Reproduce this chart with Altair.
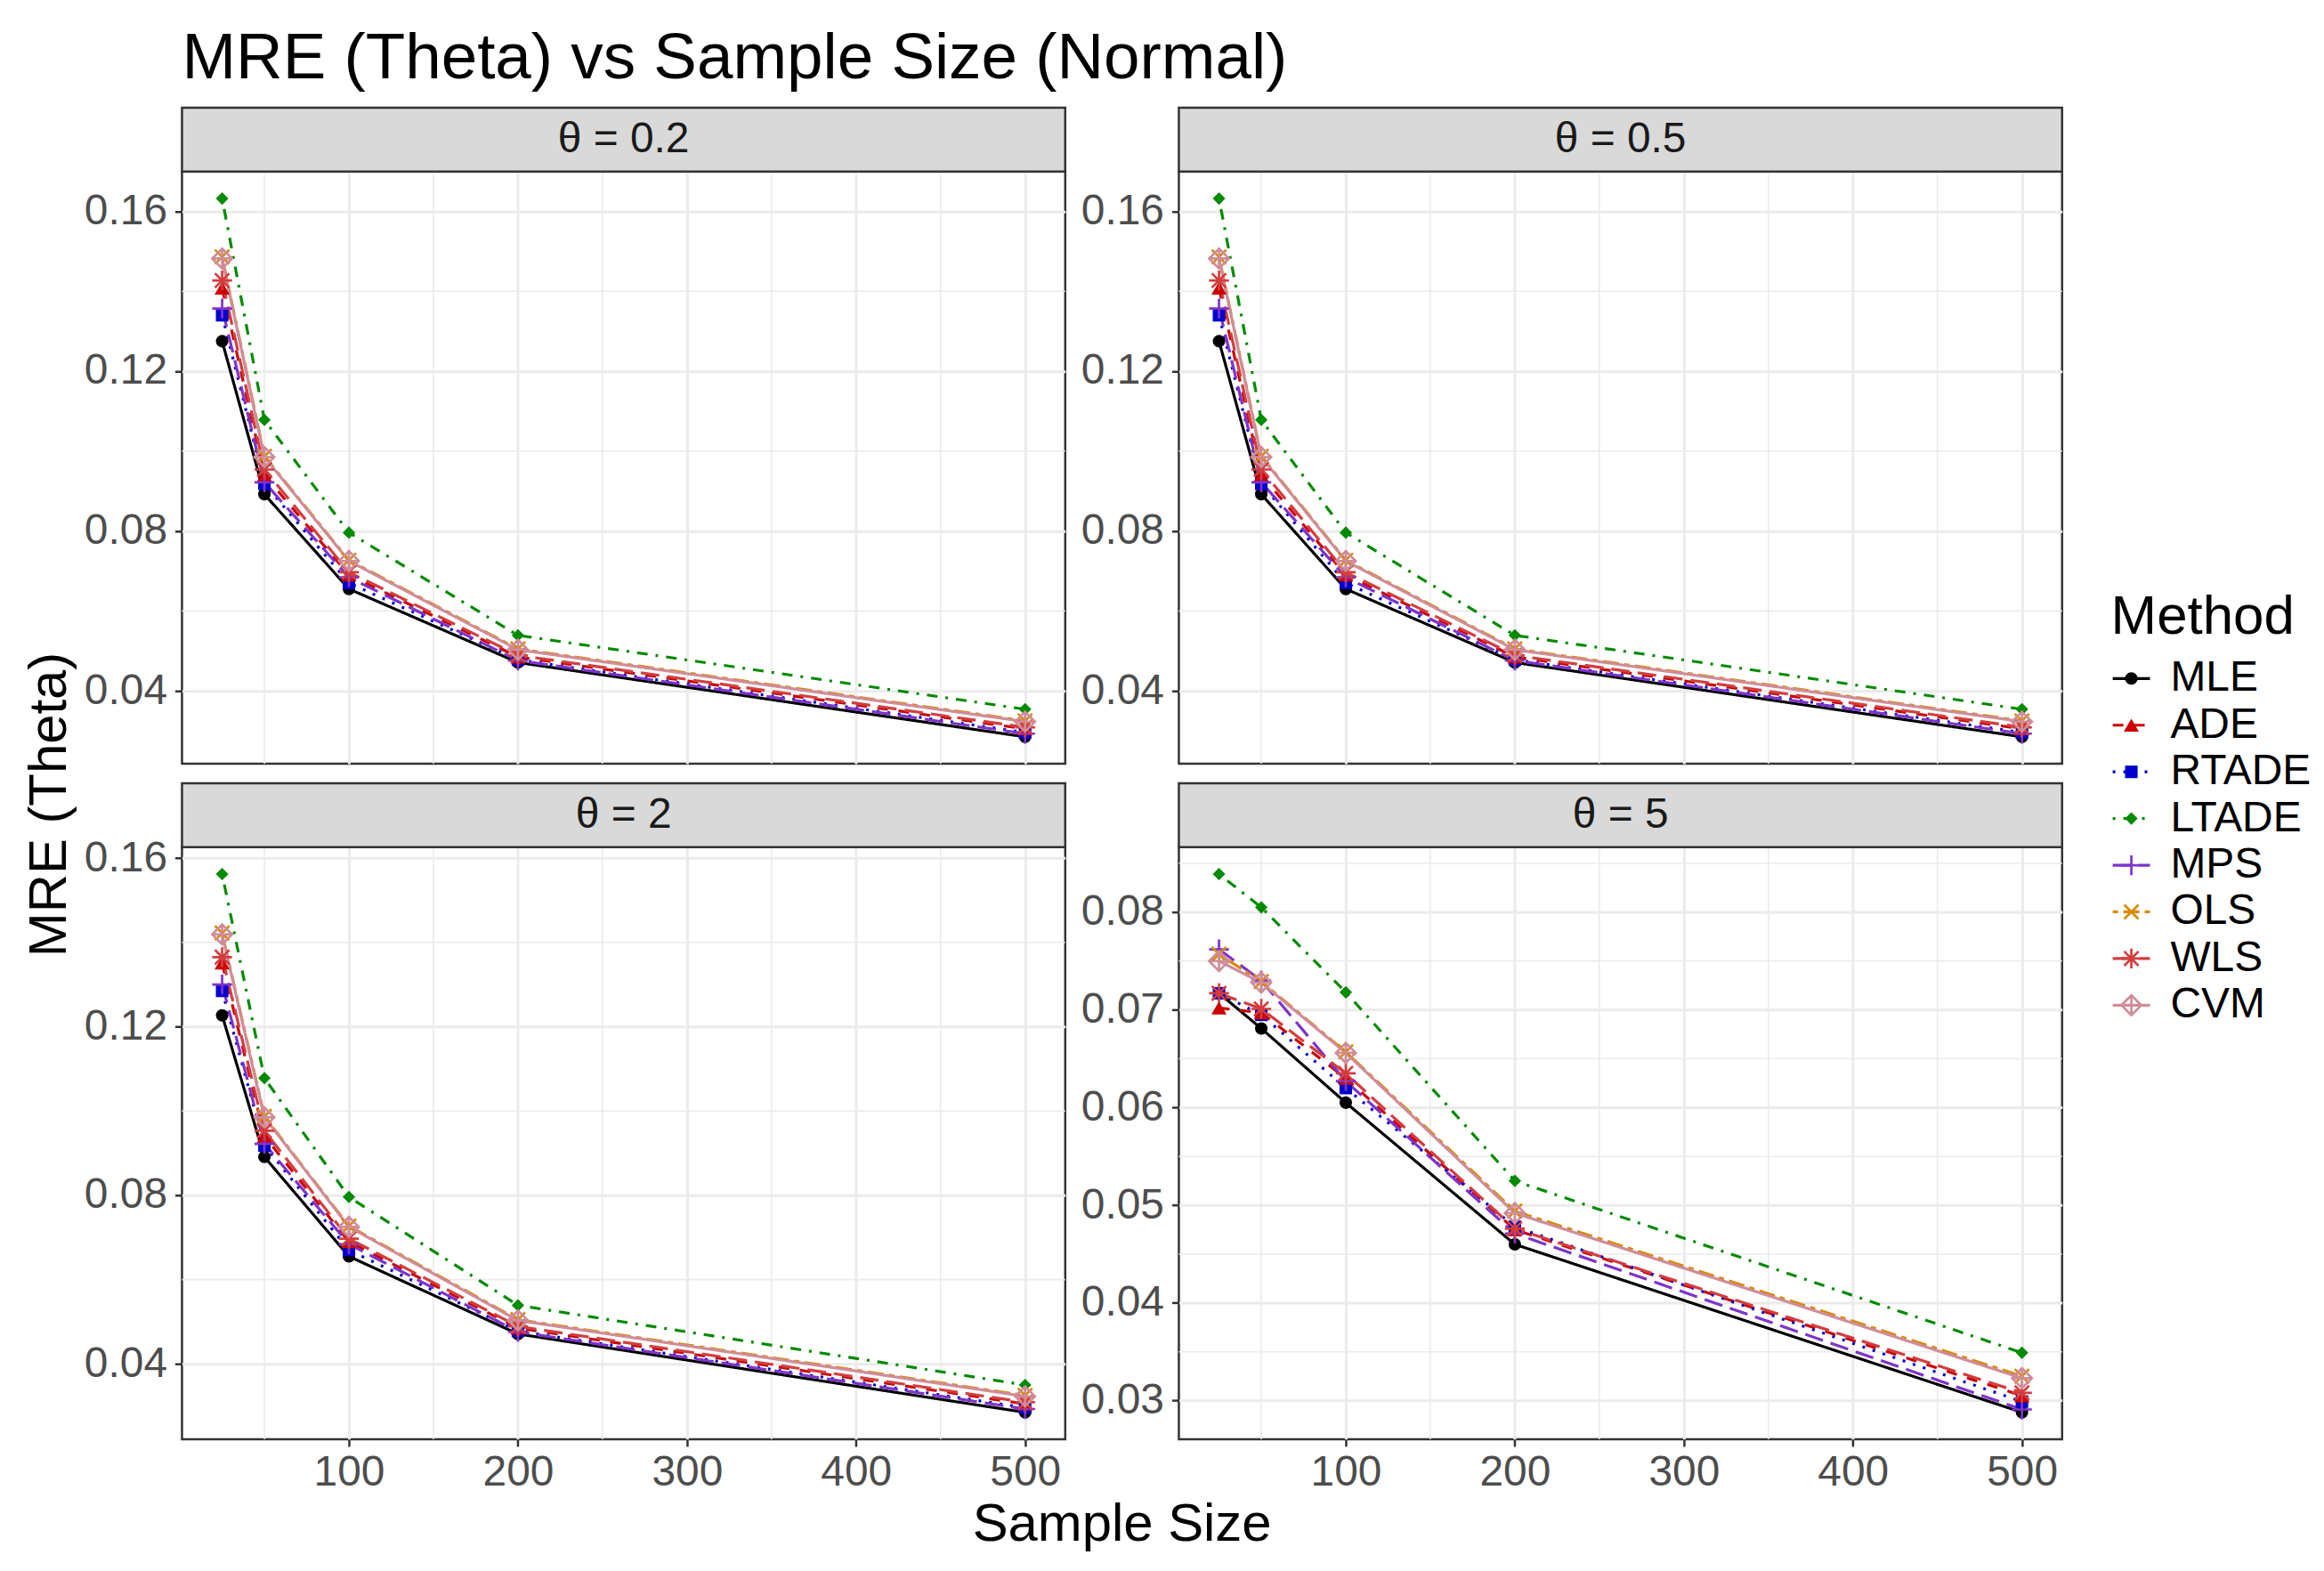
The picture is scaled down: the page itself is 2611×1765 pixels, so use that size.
import altair as alt
import pandas as pd

# ---------------- data ----------------
methods = ["MLE", "ADE", "RTADE", "LTADE", "MPS", "OLS", "WLS", "CVM"]
sample_sizes = [25, 50, 100, 200, 500]
theta_labels = ["θ = 0.2", "θ = 0.5", "θ = 2", "θ = 5"]

x_ticks = [100, 200, 300, 400, 500]
x_minor = [50, 150, 250, 350, 450]

y_ticks_a = [0.04, 0.08, 0.12, 0.16]
y_minor_a = [0.06, 0.10, 0.14]
y_ticks_b = [0.03, 0.04, 0.05, 0.06, 0.07, 0.08]
y_minor_b = [0.035, 0.045, 0.055, 0.065, 0.075, 0.085]

mre_theta_02 = {
    "MLE":   [0.1275, 0.0892, 0.0655, 0.0471, 0.0285],
    "ADE":   [0.1408, 0.0940, 0.0690, 0.0485, 0.0305],
    "RTADE": [0.1340, 0.0918, 0.0670, 0.0478, 0.0296],
    "LTADE": [0.1632, 0.1078, 0.0796, 0.0539, 0.0354],
    "MPS":   [0.1357, 0.0922, 0.0684, 0.0476, 0.0293],
    "OLS":   [0.1486, 0.0987, 0.0727, 0.0505, 0.0325],
    "WLS":   [0.1427, 0.0954, 0.0697, 0.0489, 0.0309],
    "CVM":   [0.1482, 0.0985, 0.0725, 0.0503, 0.0323],
}
mre_theta_05 = {
    "MLE":   [0.1275, 0.0892, 0.0655, 0.0471, 0.0285],
    "ADE":   [0.1408, 0.0940, 0.0690, 0.0485, 0.0305],
    "RTADE": [0.1340, 0.0918, 0.0670, 0.0478, 0.0296],
    "LTADE": [0.1632, 0.1078, 0.0796, 0.0539, 0.0354],
    "MPS":   [0.1357, 0.0922, 0.0684, 0.0476, 0.0293],
    "OLS":   [0.1486, 0.0987, 0.0727, 0.0505, 0.0325],
    "WLS":   [0.1427, 0.0954, 0.0697, 0.0489, 0.0309],
    "CVM":   [0.1482, 0.0985, 0.0725, 0.0503, 0.0323],
}
mre_theta_2 = {
    "MLE":   [0.1227, 0.0891, 0.0655, 0.0471, 0.0285],
    "ADE":   [0.1351, 0.0940, 0.0690, 0.0485, 0.0305],
    "RTADE": [0.1285, 0.0918, 0.0670, 0.0478, 0.0296],
    "LTADE": [0.1562, 0.1078, 0.0796, 0.0539, 0.0350],
    "MPS":   [0.1300, 0.0922, 0.0684, 0.0476, 0.0293],
    "OLS":   [0.1422, 0.0987, 0.0727, 0.0505, 0.0325],
    "WLS":   [0.1365, 0.0953, 0.0697, 0.0489, 0.0309],
    "CVM":   [0.1419, 0.0985, 0.0725, 0.0503, 0.0323],
}
mre_theta_5 = {
    "MLE":   [0.0717, 0.0681, 0.0605, 0.0460, 0.0288],
    "ADE":   [0.0702, 0.0697, 0.0630, 0.0475, 0.0305],
    "RTADE": [0.0717, 0.0695, 0.0620, 0.0478, 0.0299],
    "LTADE": [0.0839, 0.0805, 0.0718, 0.0525, 0.0349],
    "MPS":   [0.0762, 0.0730, 0.0627, 0.0471, 0.0291],
    "OLS":   [0.0757, 0.0729, 0.0657, 0.0494, 0.0325],
    "WLS":   [0.0717, 0.0701, 0.0635, 0.0476, 0.0308],
    "CVM":   [0.0750, 0.0728, 0.0656, 0.0492, 0.0323],
}
panel_values = [mre_theta_02, mre_theta_05, mre_theta_2, mre_theta_5]
panel_ticks = [(y_ticks_a, y_minor_a), (y_ticks_a, y_minor_a),
               (y_ticks_a, y_minor_a), (y_ticks_b, y_minor_b)]

title_text = "MRE (Theta) vs Sample Size (Normal)"
x_title = "Sample Size"
y_title = "MRE (Theta)"
legend_title = "Method"

# ---------------- styles ----------------
colors = ["#000000", "#CC0000", "#0000CC", "#008B00",
          "#7D33CC", "#D98A00", "#D43D3D", "#D08C99"]
dashes = [[1, 0], [12, 12], [3, 9], [3, 9, 12, 9],
          [21, 9], [6, 6, 18, 6], [21, 9], [1, 0]]
PLUS = "M-1,0L1,0M0,-1L0,1"
CROSS = "M-0.72,-0.72L0.72,0.72M-0.72,0.72L0.72,-0.72"
ASTER = "M-1,0L1,0M0,-1L0,1M-0.72,-0.72L0.72,0.72M-0.72,0.72L0.72,-0.72"
DPLUS = "M0,-1L1,0L0,1L-1,0ZM-1,0L1,0M0,-1L0,1"
shapes = ["circle", "triangle-up", "square", "diamond", PLUS, CROSS, ASTER, DPLUS]
round_methods = ["MLE", "RTADE", "LTADE"]
tri_methods = ["ADE"]
open_methods = methods[4:]

color_scale = alt.Scale(domain=methods, range=colors)
dash_scale = alt.Scale(domain=methods, range=dashes)
shape_scale = alt.Scale(domain=methods, range=shapes)

FONT = "Liberation Sans"
PW, PH, SH = 995, 667, 72
GAP_COL, GAP_ROW = 128, 22
GRID_C = "#EBEBEB"
LINE_W = 3.2
SIZE_F, SIZE_T, SIZE_O = 200, 290, 500


def make_df(vals):
    rows = []
    for m in methods:
        for n, v in zip(sample_sizes, vals[m]):
            rows.append({"Method": m, "n": n, "MRE": v})
    return pd.DataFrame(rows)


def text_layer(txt, x, y, size, **kw):
    return alt.Chart(pd.DataFrame({"t": [txt]})).mark_text(
        fontSize=size, font=FONT, **kw
    ).encode(text="t:N", x=alt.value(x), y=alt.value(y))


def point_layers(base, xenc=None):
    out = []
    for group, size, filled in [(round_methods, SIZE_F, True), (tri_methods, SIZE_T, True),
                                (open_methods, SIZE_O, False)]:
        mk = dict(filled=filled, opacity=1, size=size)
        if not filled:
            mk["strokeWidth"] = 2.7
        enc = dict(shape=alt.Shape("Method:N", scale=shape_scale, legend=None))
        if xenc is not None:
            enc["x"] = xenc
        out.append(base.transform_filter(
            alt.FieldOneOfPredicate(field="Method", oneOf=group)
        ).mark_point(**mk).encode(**enc))
    return out


def panel(i, bottom):
    df = make_df(panel_values[i])
    ticks, minor = panel_ticks[i]
    lo, hi = df["MRE"].min(), df["MRE"].max()
    pad = (hi - lo) * 0.05
    xscale = alt.Scale(domain=[25 - 0.05 * 475, 500 + 0.05 * 475], nice=False, zero=False)
    yscale = alt.Scale(domain=[lo - pad, hi + pad], nice=False, zero=False)
    if bottom:
        xaxis = alt.Axis(values=x_ticks, title=None, grid=True, labels=True, ticks=True,
                         domain=False, labelPadding=6, labelFlush=False, orient="bottom")
    else:
        xaxis = alt.Axis(values=x_ticks, title=None, grid=True, labels=False, ticks=False,
                         domain=False, orient="bottom")
    yaxis = alt.Axis(values=ticks, format=".2f", title=None, grid=True, domain=False,
                     labelPadding=9, labelFlush=False, orient="left")

    xm = alt.Chart(pd.DataFrame({"v": x_minor})).mark_rule(
        color=GRID_C, strokeWidth=1.6).encode(
        x=alt.X("v:Q", scale=xscale, axis=xaxis))
    ym = alt.Chart(pd.DataFrame({"v": minor})).mark_rule(
        color=GRID_C, strokeWidth=1.6).encode(
        y=alt.Y("v:Q", scale=yscale, axis=yaxis))

    base = alt.Chart(df).encode(
        x=alt.X("n:Q", scale=xscale, axis=xaxis),
        y=alt.Y("MRE:Q", scale=yscale, axis=yaxis),
        color=alt.Color("Method:N", scale=color_scale, legend=None),
    )
    lines = base.mark_line(strokeWidth=LINE_W).encode(
        strokeDash=alt.StrokeDash("Method:N", scale=dash_scale, legend=None))

    strip_rect = alt.Chart(pd.DataFrame({"t": [theta_labels[i]]})).mark_rect(
        fill="#D9D9D9", stroke="#333333", strokeWidth=2.5
    ).encode(x=alt.value(0), x2=alt.value(PW), y=alt.value(-SH), y2=alt.value(0))
    strip_txt = text_layer(theta_labels[i], PW / 2, -SH / 2, 48, color="#1A1A1A",
                           align="center", baseline="middle")

    layers = [xm, ym, lines] + point_layers(base) + [strip_rect, strip_txt]
    if i == 0:
        layers.append(text_layer(title_text, 0, -105, 73, color="#000000",
                                 align="left", baseline="alphabetic"))
        layers.append(text_layer(y_title, -149, 713, 60,
                                 color="#000000", align="center", baseline="middle",
                                 angle=270))
    if i == 2:
        layers.append(text_layer(x_title, PW + GAP_COL / 2, 781, 60, color="#000000",
                                 align="center", baseline="alphabetic"))
    return alt.layer(*layers).properties(width=PW, height=PH)


def legend_layers():
    leg_df = pd.DataFrame({"Method": methods})
    ly = alt.Y("Method:N",
               scale=alt.Scale(type="point", domain=methods, range=[571, 939], padding=0),
               axis=None)
    lbase = alt.Chart(leg_df).encode(
        y=ly, color=alt.Color("Method:N", scale=color_scale, legend=None))
    l_rule = lbase.mark_rule(strokeWidth=LINE_W).encode(
        x=alt.value(1052), x2=alt.value(1094),
        strokeDash=alt.StrokeDash("Method:N", scale=dash_scale, legend=None))
    l_pts = point_layers(lbase, xenc=alt.value(1073))
    l_txt = alt.Chart(leg_df).mark_text(
        align="left", baseline="middle", fontSize=48, font=FONT, color="#000000"
    ).encode(x=alt.value(1117), y=ly, text="Method:N")
    l_title = text_layer(legend_title, 1050, 521, 62, color="#000000",
                         align="left", baseline="alphabetic")
    return alt.layer(l_rule, *l_pts, l_txt, l_title)


p1 = panel(0, False)
p2 = alt.layer(panel(1, False), legend_layers()).resolve_scale(y="independent")
p3 = panel(2, True)
p4 = panel(3, True)

chart = alt.concat(
    p1, p2, p3, p4, columns=2,
    spacing=alt.RowColnumber(row=GAP_ROW + SH, column=GAP_COL),
    bounds="flush",
).resolve_scale(x="independent", y="independent").properties(
    padding={"left": 16, "top": 18, "right": 5, "bottom": 5},
).configure(font=FONT).configure_view(
    stroke="#333333", strokeWidth=2.5
).configure_axis(
    labelFont=FONT, labelFontSize=48, labelColor="#4D4D4D",
    tickColor="#333333", tickWidth=2.5, tickSize=8,
    gridColor=GRID_C, gridWidth=3,
)

chart.save("out.html", embed_options={"renderer": "svg", "actions": False})
